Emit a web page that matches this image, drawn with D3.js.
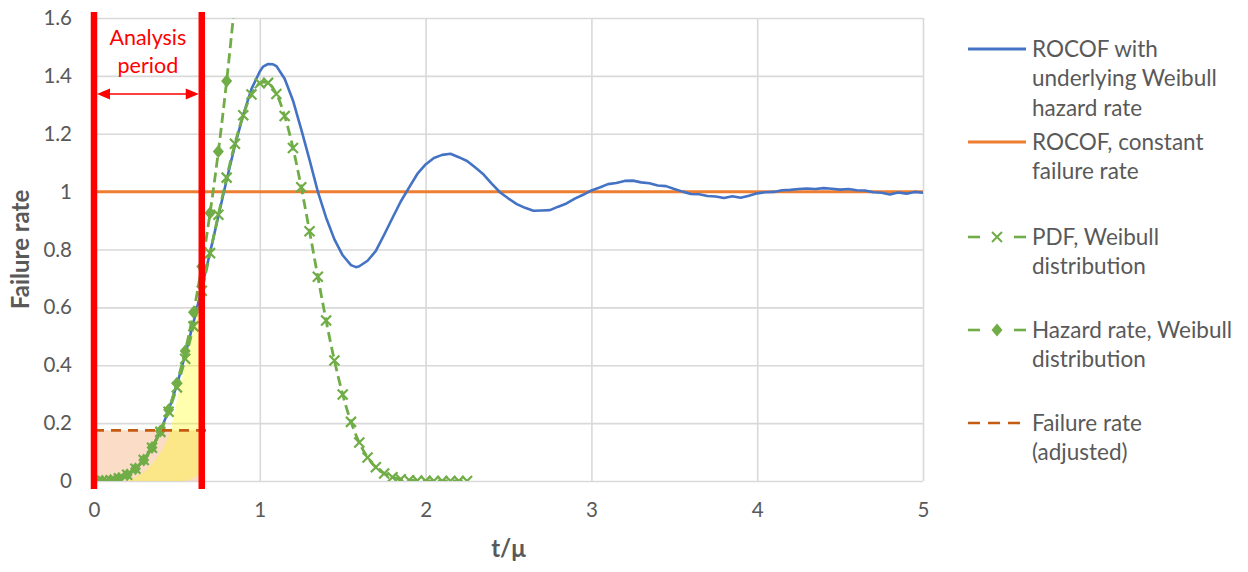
<!DOCTYPE html>
<html>
<head>
<meta charset="utf-8">
<script src="https://cdn.jsdelivr.net/npm/d3@7"></script>
<style>
  body { margin: 0; background: #fff; }
  text { font-family: Lato, "Open Sans", sans-serif; }
</style>
</head>
<body>
<div class="chart"></div>
<script>
// chart data
var markerT = [0, 0.05, 0.1, 0.15, 0.2, 0.25, 0.3, 0.35, 0.4, 0.45, 0.5, 0.55, 0.6, 0.65, 0.7, 0.75,
  0.8, 0.85, 0.9, 0.95, 1, 1.05, 1.1, 1.15, 1.2, 1.25, 1.3, 1.35, 1.4, 1.45, 1.5, 1.55, 1.6, 1.65,
  1.7, 1.75, 1.8, 1.85, 1.9, 1.95, 2, 2.05, 2.1, 2.15, 2.2, 2.25];

var pdfVals = [0, 0.0003, 0.0027, 0.0091, 0.0216, 0.0421, 0.0725, 0.1146, 0.1698, 0.2393, 0.3235,
  0.4222, 0.5343, 0.6572, 0.7874, 0.9199, 1.0483, 1.1657, 1.2639, 1.3358, 1.3746, 1.3759, 1.3376,
  1.2611, 1.151, 1.015, 0.8629, 0.7061, 0.5544, 0.4167, 0.2992, 0.2044, 0.1328, 0.0815, 0.0473,
  0.0258, 0.0132, 0.0063, 0.0028, 0.0012, 0.0004, 0.0002, 0.0001, 0, 0, 0];

var hazardVals = [0, 0.0003, 0.0027, 0.0091, 0.0216, 0.0422, 0.0729, 0.1157, 0.1728, 0.246, 0.3375,
  0.4491, 0.5831, 0.7414, 0.926, 1.1389, 1.3822, 1.6578];

// ROCOF with underlying Weibull hazard rate: [t/mu, rate]
var rocof = [
  [0, 0], [0.05, 0.001], [0.1, 0.003], [0.15, 0.009], [0.2, 0.022], [0.25, 0.042], [0.3, 0.073],
  [0.35, 0.116], [0.4, 0.172], [0.45, 0.244], [0.5, 0.332], [0.55, 0.436], [0.6, 0.548],
  [0.65, 0.666], [0.7, 0.79], [0.75, 0.915], [0.8, 1.04], [0.85, 1.16], [0.9, 1.265],
  [0.95, 1.355], [1, 1.415], [1.02, 1.432], [1.05, 1.441], [1.08, 1.44], [1.1, 1.434],
  [1.15, 1.39], [1.2, 1.315], [1.25, 1.215], [1.3, 1.11], [1.35, 1.0], [1.4, 0.91],
  [1.45, 0.835], [1.5, 0.78], [1.55, 0.746], [1.58, 0.739], [1.6, 0.742], [1.65, 0.761],
  [1.7, 0.795], [1.75, 0.851], [1.8, 0.909], [1.85, 0.966], [1.9, 1.014], [1.95, 1.061],
  [2, 1.094], [2.05, 1.116], [2.1, 1.127], [2.15, 1.131], [2.2, 1.119], [2.25, 1.106],
  [2.3, 1.083], [2.35, 1.059], [2.4, 1.027], [2.45, 0.997], [2.5, 0.976], [2.55, 0.957],
  [2.6, 0.944], [2.65, 0.934], [2.7, 0.935], [2.75, 0.936], [2.8, 0.948], [2.85, 0.959],
  [2.9, 0.976], [2.95, 0.989], [3, 1.004], [3.05, 1.014], [3.1, 1.026], [3.15, 1.03],
  [3.2, 1.037], [3.25, 1.038], [3.3, 1.032], [3.35, 1.029], [3.4, 1.021], [3.45, 1.019],
  [3.5, 1.009], [3.55, 1.0], [3.6, 0.992], [3.65, 0.991], [3.7, 0.985], [3.75, 0.983],
  [3.8, 0.978], [3.85, 0.984], [3.9, 0.979], [3.95, 0.986], [4, 0.994], [4.05, 0.998],
  [4.1, 0.999], [4.15, 1.005], [4.2, 1.006], [4.25, 1.009], [4.3, 1.011], [4.35, 1.009],
  [4.4, 1.012], [4.45, 1.01], [4.5, 1.007], [4.55, 1.009], [4.6, 1.005], [4.65, 1.004],
  [4.7, 0.998], [4.75, 0.996], [4.8, 0.99], [4.85, 0.997], [4.9, 0.993], [4.95, 0.999], [5, 0.996]
];

var constRate = [[0, 1], [5, 1]];
var adjustedRate = [[0, 0.175], [0.71, 0.175]];
var analysisEnd = 0.65;

// shaded regions inside the analysis period
var peachBox = [[0, 0], [0.65, 0], [0.65, 0.175], [0, 0.175]];
var yellowShape = [[0.2, 0], [0.3, 0.03], [0.38, 0.08], [0.43, 0.13], [0.46, 0.175], [0.5, 0.28],
  [0.55, 0.4], [0.6, 0.52], [0.645, 0.6], [0.645, 0.04], [0.6, 0.01], [0.55, 0]];

var xTicks = [0, 1, 2, 3, 4, 5];
var yTicks = [0, 0.2, 0.4, 0.6, 0.8, 1, 1.2, 1.4, 1.6];

var legendItems = [
  { key: "rocof", lines: ["ROCOF with", "underlying Weibull", "hazard rate"] },
  { key: "const", lines: ["ROCOF, constant", "failure rate"] },
  { key: "pdf", lines: ["PDF, Weibull", "distribution"] },
  { key: "hazard", lines: ["Hazard rate, Weibull", "distribution"] },
  { key: "adjusted", lines: ["Failure rate", "(adjusted)"] }
];

// Set up chart
var svgWidth = 1248;
var svgHeight = 572;
var margin = { top: 18, right: 325, bottom: 91, left: 94 };
var width = svgWidth - margin.left - margin.right;
var height = svgHeight - margin.top - margin.bottom;

var blue = "#4472C4", orange = "#ED7D31", green = "#70AD47", darkOrange = "#C55A11";
var grey = "#595959", gridCol = "#D9D9D9";

var svg = d3.select(".chart").append("svg")
  .attr("width", svgWidth)
  .attr("height", svgHeight);

var chartGroup = svg.append("g")
  .attr("transform", `translate(${margin.left}, ${margin.top})`);

var xScale = d3.scaleLinear().domain([0, 5]).range([0, width]);
var yScale = d3.scaleLinear().domain([0, 1.6]).range([height, 0]);

// gridlines
chartGroup.append("g")
  .attr("class", "grid")
  .call(d3.axisLeft(yScale).tickValues(yTicks).tickSize(-width).tickFormat(""))
  .call(g => g.select(".domain").remove())
  .selectAll("line").attr("stroke", gridCol).attr("stroke-width", 1.6);

chartGroup.append("g")
  .attr("class", "grid")
  .attr("transform", `translate(0, ${height})`)
  .call(d3.axisBottom(xScale).tickValues(xTicks).tickSize(-height).tickFormat(""))
  .call(g => g.select(".domain").remove())
  .selectAll("line").attr("stroke", gridCol).attr("stroke-width", 1.6);

// axes labels
var yAxis = chartGroup.append("g")
  .call(d3.axisLeft(yScale).tickValues(yTicks).tickSize(0).tickPadding(22).tickFormat(d => String(d)));
yAxis.select(".domain").remove();

var xAxis = chartGroup.append("g")
  .attr("transform", `translate(0, ${height})`)
  .call(d3.axisBottom(xScale).tickValues(xTicks).tickSize(0).tickPadding(21).tickFormat(d => String(d)));
xAxis.select(".domain").remove();

chartGroup.selectAll(".tick text")
  .attr("fill", grey)
  .style("font-size", "20.5px")
  .style("font-family", "Lato, 'Open Sans', sans-serif");

// clip to plot area
svg.append("defs").append("clipPath").attr("id", "plotClip")
  .append("rect").attr("x", 0).attr("y", 0).attr("width", width).attr("height", height);

var plot = chartGroup.append("g").attr("clip-path", "url(#plotClip)");

var polyLine = d3.line().x(d => xScale(d[0])).y(d => yScale(d[1]));

// shaded areas
plot.append("path")
  .attr("d", polyLine(peachBox) + "Z")
  .attr("fill", "#F4B183").attr("opacity", 0.45);

plot.append("path")
  .attr("d", d3.line().curve(d3.curveCatmullRom).x(d => xScale(d[0])).y(d => yScale(d[1]))(yellowShape) + "Z")
  .attr("fill", "#FFFF00").attr("opacity", 0.32);

// constant failure rate
plot.append("path")
  .attr("d", polyLine(constRate))
  .attr("fill", "none").attr("stroke", orange).attr("stroke-width", 3);

// ROCOF with Weibull hazard
plot.append("path")
  .attr("d", polyLine(rocof))
  .attr("fill", "none").attr("stroke", blue).attr("stroke-width", 2.6)
  .attr("stroke-linejoin", "round");

// PDF
var pdfData = markerT.map((t, i) => [t, pdfVals[i]]);
var smooth = d3.line().curve(d3.curveCatmullRom).x(d => xScale(d[0])).y(d => yScale(d[1]));

plot.append("path")
  .attr("d", smooth(pdfData))
  .attr("fill", "none").attr("stroke", green).attr("stroke-width", 2.8)
  .attr("stroke-dasharray", "10,5");

// hazard rate
var hazardData = hazardVals.map((h, i) => [markerT[i], h]);
plot.append("path")
  .attr("d", smooth(hazardData))
  .attr("fill", "none").attr("stroke", green).attr("stroke-width", 2.8)
  .attr("stroke-dasharray", "10,5");

var crossPath = "M-5,-5L5,5M-5,5L5,-5";
var diamondPath = "M0,-6.5L5.5,0L0,6.5L-5.5,0Z";

plot.selectAll(".pdfMark")
  .data(pdfData)
  .enter()
  .append("path")
  .attr("class", "pdfMark")
  .attr("transform", d => `translate(${xScale(d[0])}, ${yScale(d[1])})`)
  .attr("d", crossPath)
  .attr("fill", "none").attr("stroke", green).attr("stroke-width", 2.2);

plot.selectAll(".hazMark")
  .data(hazardData)
  .enter()
  .append("path")
  .attr("class", "hazMark")
  .attr("transform", d => `translate(${xScale(d[0])}, ${yScale(d[1])})`)
  .attr("d", diamondPath)
  .attr("fill", green);

// adjusted failure rate
chartGroup.append("path")
  .attr("d", polyLine(adjustedRate))
  .attr("fill", "none").attr("stroke", darkOrange).attr("stroke-width", 2.6)
  .attr("stroke-dasharray", "10,7");

// analysis period markers
chartGroup.selectAll(".periodLine")
  .data([0, analysisEnd])
  .enter()
  .append("line")
  .attr("class", "periodLine")
  .attr("x1", d => xScale(d)).attr("x2", d => xScale(d))
  .attr("y1", -6).attr("y2", height + 8)
  .attr("stroke", "#FF0000").attr("stroke-width", 6.5);

var arrowY = 76;
var ax1 = xScale(0) + 3, ax2 = xScale(analysisEnd) - 3;
chartGroup.append("line")
  .attr("x1", ax1 + 10).attr("x2", ax2 - 10)
  .attr("y1", arrowY).attr("y2", arrowY)
  .attr("stroke", "#FF0000").attr("stroke-width", 1.3);
chartGroup.append("path")
  .attr("d", `M${ax1},${arrowY}L${ax1 + 13},${arrowY - 5.5}L${ax1 + 13},${arrowY + 5.5}Z`)
  .attr("fill", "#FF0000");
chartGroup.append("path")
  .attr("d", `M${ax2},${arrowY}L${ax2 - 13},${arrowY - 5.5}L${ax2 - 13},${arrowY + 5.5}Z`)
  .attr("fill", "#FF0000");

var periodText = chartGroup.append("text")
  .attr("x", xScale(analysisEnd / 2))
  .attr("y", 27)
  .attr("text-anchor", "middle")
  .attr("fill", "#FF0000")
  .style("font-size", "21.5px");
periodText.append("tspan").attr("x", xScale(analysisEnd / 2)).attr("dy", 0).text("Analysis");
periodText.append("tspan").attr("x", xScale(analysisEnd / 2)).attr("dy", 28).text("period");

// axis titles
svg.append("text")
  .attr("transform", `translate(29, ${margin.top + height / 2}) rotate(-90)`)
  .attr("text-anchor", "middle")
  .attr("fill", grey)
  .style("font-size", "24px")
  .style("font-weight", "bold")
  .text("Failure rate");

svg.append("text")
  .attr("x", margin.left + width / 2)
  .attr("y", 557)
  .attr("text-anchor", "middle")
  .attr("fill", grey)
  .style("font-size", "24px")
  .style("font-weight", "bold")
  .text("t/μ");

// legend
var legendY = [49, 142, 237, 330, 423];
var legend = svg.append("g");
legendItems.forEach(function(item, i) {
  var y = legendY[i];
  var g = legend.append("g").attr("transform", `translate(968, ${y})`);
  if (item.key === "rocof" || item.key === "const") {
    g.append("line").attr("x1", 0).attr("x2", 58).attr("y1", 0).attr("y2", 0)
      .attr("stroke", item.key === "rocof" ? blue : orange).attr("stroke-width", 3);
  } else if (item.key === "pdf" || item.key === "hazard") {
    g.append("line").attr("x1", 0).attr("x2", 12).attr("y1", 0).attr("y2", 0)
      .attr("stroke", green).attr("stroke-width", 2.6);
    g.append("line").attr("x1", 46).attr("x2", 58).attr("y1", 0).attr("y2", 0)
      .attr("stroke", green).attr("stroke-width", 2.6);
    g.append("path").attr("transform", "translate(29, 0)")
      .attr("d", item.key === "pdf" ? crossPath : diamondPath)
      .attr("fill", item.key === "pdf" ? "none" : green)
      .attr("stroke", item.key === "pdf" ? green : "none").attr("stroke-width", 2);
  } else {
    g.append("line").attr("x1", 0).attr("x2", 58).attr("y1", 0).attr("y2", 0)
      .attr("stroke", darkOrange).attr("stroke-width", 2.6).attr("stroke-dasharray", "12,8");
  }
  item.lines.forEach(function(line, j) {
    g.append("text")
      .attr("x", 64)
      .attr("y", j * 29.5)
      .attr("dy", "0.35em")
      .attr("fill", grey)
      .style("font-size", "22.5px")
      .text(line);
  });
});
</script>
</body>
</html>
